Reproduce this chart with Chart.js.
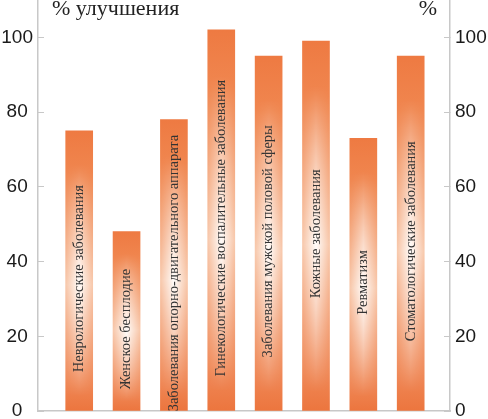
<!DOCTYPE html>
<html>
<head>
<meta charset="utf-8">
<script src="https://cdn.jsdelivr.net/npm/chart.js@4/dist/chart.umd.min.js"></script>
<style>
  html, body { margin: 0; padding: 0; background: #ffffff; }
  #wrap { width: 488px; height: 419px; position: relative; }
</style>
</head>
<body>
<div id="wrap"><canvas id="improvementChart"></canvas></div>
<script>
// Data
const categories = [
    'Неврологические заболевания',
    'Женское бесплодие',
    'Заболевания опорно-двигательного аппарата',
    'Гинекологические воспалительные заболевания',
    'Заболевания мужской половой сферы',
    'Кожные заболевания',
    'Ревматизм',
    'Стоматологические заболевания'
];
const improvement = [75, 48, 78, 102, 95, 99, 73, 95];
const yTicks = [0, 20, 40, 60, 80, 100];
const leftTitle = '% улучшения';
const rightTitle = '%';

const axisColor = '#c8c8c8';
const tickFont = { family: "'Liberation Sans', Arial, sans-serif", size: 19 };

function barGradient(context) {
    const chart = context.chart;
    const { ctx, chartArea, scales } = chart;
    if (!chartArea || !scales.y) return '#ee7b43';
    const top = scales.y.getPixelForValue(improvement[context.dataIndex]);
    const bottom = scales.y.getPixelForValue(0);
    const g = ctx.createLinearGradient(0, top, 0, bottom);
    g.addColorStop(0, '#ee7a42');
    g.addColorStop(0.15, '#f0864f');
    g.addColorStop(0.55, '#f7c2a2');
    g.addColorStop(0.88, '#f08b5a');
    g.addColorStop(1, '#ec753e');
    return g;
}

// white sheen down the middle of each bar, strongest a bit below half height
function drawSheen(ctx, bar) {
    const w = Math.max(1, Math.round(bar.width));
    const h = Math.max(1, Math.round(bar.base - bar.y));
    const off = document.createElement('canvas');
    off.width = w;
    off.height = h;
    const o = off.getContext('2d');
    const hg = o.createLinearGradient(0, 0, w, 0);
    hg.addColorStop(0, 'rgba(255,255,255,0.1)');
    hg.addColorStop(0.5, 'rgba(255,255,255,0.95)');
    hg.addColorStop(1, 'rgba(255,255,255,0.1)');
    o.fillStyle = hg;
    o.fillRect(0, 0, w, h);
    o.globalCompositeOperation = 'destination-in';
    const vg = o.createLinearGradient(0, 0, 0, h);
    vg.addColorStop(0, 'rgba(0,0,0,0)');
    vg.addColorStop(0.12, 'rgba(0,0,0,0)');
    vg.addColorStop(0.55, 'rgba(0,0,0,1)');
    vg.addColorStop(0.95, 'rgba(0,0,0,0)');
    o.fillStyle = vg;
    o.fillRect(0, 0, w, h);
    ctx.drawImage(off, bar.x - bar.width / 2, bar.y, bar.width, bar.base - bar.y);
}

// sheen + the category name written up the bar
const barDecor = {
    id: 'barDecor',
    afterDatasetsDraw(chart) {
        const ctx = chart.ctx;
        const meta = chart.getDatasetMeta(0);
        meta.data.forEach(function(bar, i) {
            drawSheen(ctx, bar);

            const h = bar.base - bar.y;
            ctx.save();
            ctx.translate(bar.x, bar.y + h / 2 + 8);
            ctx.rotate(-Math.PI / 2);
            ctx.font = "14.5px 'Liberation Serif', 'Times New Roman', serif";
            ctx.fillStyle = '#333333';
            ctx.textAlign = 'center';
            ctx.textBaseline = 'middle';
            ctx.fillText(categories[i], 0, 0);
            ctx.restore();
        });
    }
};

const axisTitles = {
    id: 'axisTitles',
    afterDraw(chart) {
        const ctx = chart.ctx;
        ctx.save();
        ctx.font = "22px 'Liberation Serif', 'Times New Roman', serif";
        ctx.fillStyle = '#222222';
        ctx.textBaseline = 'alphabetic';
        ctx.textAlign = 'left';
        ctx.fillText(leftTitle, chart.chartArea.left + 14, 15);
        ctx.textAlign = 'right';
        ctx.fillText(rightTitle, chart.chartArea.right - 13, 15);
        ctx.restore();
    }
};

function fixedTicks(scale) {
    scale.ticks = yTicks.map(v => ({ value: v }));
}

new Chart(document.getElementById('improvementChart'), {
    type: 'bar',
    data: {
        datasets: [{
            data: improvement.map((v, i) => ({ x: i, y: v })),
            backgroundColor: barGradient,
            borderWidth: 0,
            barThickness: 27
        }]
    },
    options: {
        responsive: true,
        maintainAspectRatio: false,
        animation: false,
        layout: { padding: 0 },
        plugins: {
            legend: { display: false },
            tooltip: { enabled: false }
        },
        scales: {
            x: {
                type: 'linear',
                offset: false,
                min: -0.87,
                max: 7.83,
                ticks: { display: false },
                grid: { display: false, drawTicks: false },
                border: { display: true, color: axisColor, width: 1.5 },
                afterFit: function(scale) { scale.height = 8; }
            },
            y: {
                position: 'left',
                min: 0,
                max: 110,
                afterBuildTicks: fixedTicks,
                ticks: { color: '#1a1a1a', font: tickFont, padding: 11, crossAlign: 'center' },
                grid: { drawOnChartArea: false, tickLength: -6, color: axisColor, lineWidth: 1 },
                border: { color: axisColor, width: 1.5 },
                afterFit: function(scale) {
                    scale.width = 38;
                    scale.paddingTop = 0;
                    scale.paddingBottom = 0;
                }
            },
            y2: {
                position: 'right',
                min: 0,
                max: 110,
                afterBuildTicks: fixedTicks,
                ticks: { color: '#1a1a1a', font: tickFont, padding: 11 },
                grid: { drawOnChartArea: false, tickLength: -6, color: axisColor, lineWidth: 1 },
                border: { color: axisColor, width: 1.5 },
                afterFit: function(scale) {
                    scale.width = 38;
                    scale.paddingTop = 0;
                    scale.paddingBottom = 0;
                }
            }
        }
    },
    plugins: [barDecor, axisTitles]
});
</script>
</body>
</html>
